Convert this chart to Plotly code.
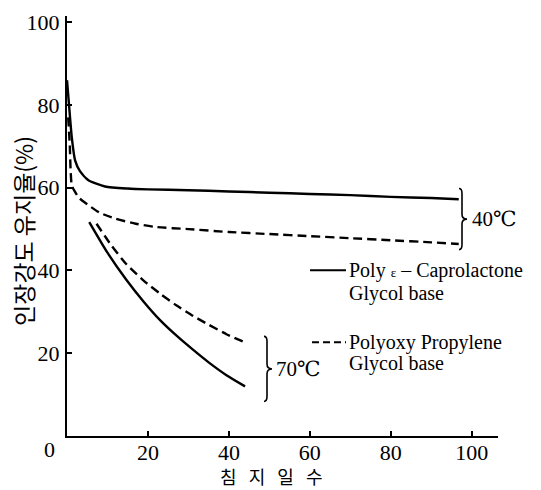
import plotly.graph_objects as go

# ---- data (days of immersion vs. tensile strength retention %) ----
cap40_x = [0, 0.5, 1.2, 2.0, 3.2, 5.3, 9.4, 15, 20, 30, 40, 50, 60, 70, 80, 90, 96.8]
cap40_y = [86, 80, 72, 66.6, 64.0, 61.8, 60.3, 59.8, 59.6, 59.4, 59.1, 58.8, 58.5, 58.2, 57.8, 57.5, 57.2]

ppg40_x = [0.3, 0.7, 0.9, 1.2, 2, 3, 5, 8, 12, 17, 22, 30, 40, 50, 60, 70, 80, 90, 96.8]
ppg40_y = [77, 70, 64, 60.5, 59, 57.5, 56, 54, 52.5, 51.3, 50.5, 50.0, 49.3, 48.8, 48.3, 47.8, 47.3, 46.8, 46.4]

cap70_x = [5.5, 10, 14.7, 19, 23.0, 27, 31.2, 35, 39.4, 44.0]
cap70_y = [51.7, 44.3, 37.7, 32.4, 28.0, 24.3, 20.8, 17.8, 14.7, 12.0]

ppg70_x = [7.3, 11, 14.7, 19, 23.0, 27, 31.2, 35, 39.4, 44.0]
ppg70_y = [51.3, 46.0, 41.5, 37.5, 34.4, 31.6, 29.0, 26.9, 24.6, 22.6]

x_ticks = [20, 40, 60, 80, 100]
y_ticks = [20, 40, 60, 80, 100]

legend_cap = ["Poly <span style=\"font-size:13px\">ε</span> – Caprolactone", "Glycol base"]
legend_ppg = ["Polyoxy Propylene", "Glycol base"]
temp_labels = ["40℃", "70℃"]

# ---- layout geometry ----
W, H = 541, 490
L, R, T, B = 67, 43, 10, 54
XR = [0, 106.5]
YR = [0, 101.5]
pw, ph = W - L - R, H - T - B


def X(px):
    return XR[0] + (px - L) / pw * (XR[1] - XR[0])


def Y(py):
    return YR[0] + (H - B - py) / ph * (YR[1] - YR[0])


serif = "Liberation Serif, Times New Roman, DejaVu Serif, serif"
kr = "Noto Sans CJK KR"

fig = go.Figure()
line_w = 2.4
for xs, ys, dash in [(cap40_x, cap40_y, "solid"), (ppg40_x, ppg40_y, "dash"),
                     (cap70_x, cap70_y, "solid"), (ppg70_x, ppg70_y, "dash")]:
    fig.add_trace(go.Scatter(x=xs, y=ys, mode="lines",
                             line=dict(color="black", width=line_w, dash=dash if dash == "solid" else "9px,5px",
                                       shape="spline", smoothing=0.6),
                             showlegend=False, hoverinfo="skip"))


def brace(px0, top, bot, tipw=5, curl=3):
    mid = (top + bot) / 2
    pts = [
        ("M", [(px0 - curl, top)]),
        ("Q", [(px0, top), (px0, top + 5)]),
        ("L", [(px0, mid - 5)]),
        ("Q", [(px0, mid), (px0 + tipw, mid)]),
        ("Q", [(px0, mid), (px0, mid + 5)]),
        ("L", [(px0, bot - 5)]),
        ("Q", [(px0, bot), (px0 - curl, bot)]),
    ]
    s = ""
    for cmd, ps in pts:
        s += cmd + " " + " ".join(f"{X(a):.4f},{Y(b):.4f}" for a, b in ps) + " "
    return s.strip()


shapes = []
shapes.append(dict(type="path", path=brace(462, 185, 247), line=dict(color="black", width=1.6)))
shapes.append(dict(type="path", path=brace(267, 335, 401), line=dict(color="black", width=1.6)))
# legend samples
shapes.append(dict(type="line", x0=X(310), x1=X(346), y0=Y(268), y1=Y(268),
                   line=dict(color="black", width=2)))
shapes.append(dict(type="line", x0=X(312), x1=X(346), y0=Y(341), y1=Y(341),
                   line=dict(color="black", width=2, dash="7px,4px")))

ann = []
def txt(text, px, py, size=20, font=serif, xanchor="left", angle=0):
    ann.append(dict(text=text, x=X(px), y=Y(py), xref="x", yref="y", showarrow=False,
                    xanchor=xanchor, yanchor="middle", textangle=angle,
                    font=dict(family=font, size=size, color="black")))

txt(legend_cap[0], 347, 268)
txt(legend_cap[1], 347, 291)
txt(legend_ppg[0], 347, 341)
txt(legend_ppg[1], 347, 362)
txt(temp_labels[0], 470, 216, size=21)
txt(temp_labels[1], 274, 368, size=21)

# corner "0"
ann.append(dict(text="0", x=0, y=0, xref="paper", yref="paper", showarrow=False,
                xanchor="right", yanchor="top", xshift=-10, yshift=1,
                font=dict(family=serif, size=22, color="black")))
# axis titles
ann.append(dict(text="인장강도 유지율(%)", x=0, y=Y(228), xref="paper", yref="y", showarrow=False,
                xanchor="center", yanchor="middle", xshift=-44, textangle=-90,
                font=dict(family=kr, size=23, color="black")))
ann.append(dict(text="침   지   일   수", x=X(271), y=0, xref="x", yref="paper", showarrow=False,
                xanchor="center", yanchor="middle", yshift=-40,
                font=dict(family=kr, size=18, color="black")))

fig.update_layout(
    width=W, height=H, margin=dict(l=L, r=R, t=T, b=B),
    paper_bgcolor="white", plot_bgcolor="white",
    shapes=shapes, annotations=ann,
    xaxis=dict(range=XR, tickvals=x_ticks, ticktext=[str(v) for v in x_ticks],
               showline=True, linecolor="black", linewidth=2.4, showgrid=False, zeroline=False,
               ticks="inside", ticklen=5, tickwidth=2, tickcolor="black", ticklabelstandoff=-5,
               tickfont=dict(family=serif, size=22, color="black")),
    yaxis=dict(range=YR, tickvals=y_ticks, ticktext=[str(v) for v in y_ticks],
               showline=True, linecolor="black", linewidth=2.4, showgrid=False, zeroline=False,
               ticks="inside", ticklen=5, tickwidth=2, tickcolor="black", ticklabelstandoff=1,
               tickfont=dict(family=serif, size=22, color="black")),
)

fig.write_html("out.html", config={"displayModeBar": False},
               post_script="document.body.style.margin='0';")
